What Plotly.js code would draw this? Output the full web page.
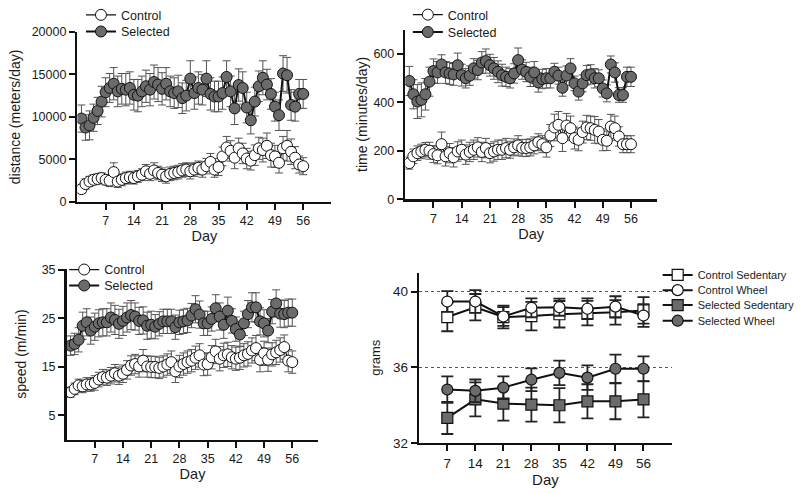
<!DOCTYPE html>
<html><head><meta charset="utf-8">
<script src="https://cdn.plot.ly/plotly-3.0.1.min.js"></script>
<style>html,body{margin:0;padding:0;background:#fff}#chart{width:800px;height:493px}</style>
</head><body><div id="chart"></div><script>
// ---- data ----
const days = [1,2,3,4,5,6,7,8,9,10,11,12,13,14,15,16,17,18,19,20,21,22,23,24,25,26,27,28,29,30,31,32,33,34,35,36,37,38,39,40,41,42,43,44,45,46,47,48,49,50,51,52,53,54,55,56];
const dayTicks = [7,14,21,28,35,42,49,56];

const distControl = [1500,2100,2400,2600,2700,2800,2600,2500,3500,2400,2600,2800,2900,2800,3000,3200,3600,3300,3700,3400,3200,3000,3300,3400,3500,3700,3800,3600,3800,4000,3800,4200,4700,3800,4100,5350,6400,6000,5200,6300,5700,5100,4850,5500,6300,6100,6600,5500,5350,4600,6300,6600,5900,5200,4400,4200];
const distControlErr = [500,600,600,600,600,600,600,700,1100,700,700,700,700,700,700,700,800,800,900,800,800,800,800,800,800,800,800,900,800,800,900,900,1000,900,1000,1100,1300,1200,1300,1200,1200,1200,1100,1200,1300,1400,1500,1400,1300,1200,1400,1800,1500,1300,1000,1000];
const distSelected = [9800,8750,9000,9900,10700,11800,12900,13400,13900,13000,13300,13200,13400,12600,12500,13000,13600,13200,14100,13800,13300,13900,13000,12800,13000,12200,12500,14500,12800,13400,13200,14500,12700,12400,12400,12800,14700,13000,11000,13750,13400,11100,9600,11800,13600,14600,13800,12700,11200,10200,15100,14900,11400,11200,12700,12700];
const distSelectedErr = [1600,1500,1700,1600,1600,1800,1700,1700,1900,1800,1800,1900,1900,1800,1900,1800,1900,1900,2000,2000,1900,1900,1800,1800,1900,1800,1800,2100,1900,1900,1800,2100,1900,1800,1800,1900,1900,1800,1900,1900,1900,1800,1600,1700,1800,2000,1800,1800,1700,1800,2100,2100,1800,1700,1700,1700];

const timeControl = [149,177,190,197,204,200,186,181,227,177,190,173,197,204,184,195,204,214,195,211,190,197,204,204,211,204,214,222,212,211,214,222,235,227,214,263,296,307,252,304,293,252,245,277,296,293,286,279,245,241,300,293,259,227,227,227];
const timeControlErr = [25,30,30,30,30,35,35,35,50,40,40,40,40,40,40,40,40,40,40,40,40,40,40,40,40,35,35,40,35,35,35,35,35,35,40,45,55,55,55,50,50,45,45,45,50,50,55,50,45,40,50,50,40,35,35,35];
const timeSelected = [488,433,403,410,433,485,529,523,556,523,519,515,553,512,499,510,540,533,564,570,553,540,526,512,505,499,519,574,535,525,505,523,482,496,499,499,526,510,460,510,540,478,444,478,512,515,499,499,457,437,556,523,430,430,505,505];
const timeSelectedErr = [60,60,70,70,65,60,50,45,40,45,45,45,50,45,40,40,40,40,45,50,45,45,45,45,40,40,40,50,40,40,40,45,40,40,40,40,35,35,35,40,40,30,35,35,40,40,40,35,35,35,35,40,30,30,40,40];

const speedControl = [9.8,10.5,11.2,11.0,11.4,11.4,11.7,12.4,12.9,12.8,13.2,13.7,13.2,13.6,14.4,15.3,15.6,15.1,16.3,15.1,15.0,15.0,14.8,15.1,15.5,16.0,14.1,15.1,15.6,16.0,16.3,16.9,17.4,15.5,15.6,17.0,18.2,16.7,17.4,17.6,17.0,16.7,16.9,17.4,17.7,18.4,18.9,16.5,17.8,16.5,17.6,18.0,18.5,19.1,16.3,16.0];
const speedControlErr = [1.0,1.2,1.3,1.3,1.4,1.4,1.5,1.5,1.6,1.6,1.7,1.8,1.8,1.8,1.9,2.0,2.0,2.2,2.3,2.2,2.2,2.2,2.2,2.2,2.2,2.3,2.3,2.3,2.3,2.3,2.3,2.4,2.4,2.3,2.3,2.4,2.5,2.5,2.5,2.5,2.4,2.4,2.4,2.4,2.5,2.6,2.6,2.5,2.5,2.4,2.4,2.5,2.5,2.5,2.3,2.3];
const speedSelected = [19.4,19.75,20.6,23.5,24.2,22.5,23.3,24.0,24.2,24.2,25.2,24.7,23.9,24.5,25.2,25.7,25.4,24.5,24.6,23.5,23.7,23.3,23.9,24.4,24.4,24.4,23.2,24.2,24.4,24.6,25.6,26.9,25.8,24.0,24.0,24.9,27.1,25.4,23.7,26.6,24.5,22.8,21.7,24.0,25.9,27.3,27.3,24.4,24.0,22.5,26.4,28.1,26.0,25.9,26.2,26.2];
const speedSelectedErr = [2.0,2.2,2.5,2.8,2.8,2.8,2.8,2.8,2.8,2.8,3.0,3.0,3.0,3.0,3.0,3.0,2.8,2.8,2.8,2.8,2.8,2.5,2.5,2.5,2.5,2.5,2.5,2.5,2.5,2.5,2.5,2.8,2.8,2.5,2.5,2.5,2.8,2.8,2.8,2.8,2.5,2.5,2.5,2.5,2.8,3.0,3.0,2.8,2.8,2.5,2.5,2.8,2.8,2.8,2.8,2.8];

const weekDays = [7,14,21,28,35,42,49,56];
const massControlSed = [38.65,39.17,38.65,38.7,38.8,38.86,38.9,39.0];
const massControlSedErr = [0.75,0.7,0.6,0.75,0.7,0.65,0.65,0.7];
const massControlWheel = [39.47,39.47,38.68,39.14,39.17,39.09,39.2,38.73];
const massControlWheelErr = [0.55,0.6,0.5,0.5,0.45,0.55,0.55,0.6];
const massSelSed = [33.32,34.3,34.08,34.02,33.99,34.2,34.2,34.3];
const massSelSedErr = [0.85,0.9,0.9,0.9,0.9,0.9,0.95,0.95];
const massSelWheel = [34.82,34.75,34.92,35.34,35.7,35.45,35.92,35.92];
const massSelWheelErr = [0.7,0.6,0.6,0.6,0.65,0.65,0.75,0.65];

// ---- styling ----
const GREY = '#6b6b6b';
const INK = '#111';
function dailyPair(xa, ya, ctl, ctlErr, sel, selErr, lgA, lgB) {
  return [
    {x: days, y: ctl, name: 'Control', type: 'scatter', mode: 'lines+markers',
     xaxis: xa, yaxis: ya, legend: lgA,
     line: {color: INK, width: 1.2},
     marker: {symbol: 'circle', size: 11, color: '#fff', line: {color: INK, width: 1}},
     error_y: {type: 'data', array: ctlErr, visible: true, color: '#555', thickness: 1, width: 4}},
    {x: days, y: sel, name: 'Selected', type: 'scatter', mode: 'lines+markers',
     xaxis: xa, yaxis: ya, legend: lgB,
     line: {color: INK, width: 2},
     marker: {symbol: 'circle', size: 11, color: GREY, line: {color: INK, width: 1}},
     error_y: {type: 'data', array: selErr, visible: true, color: '#555', thickness: 1, width: 4}}
  ];
}
function massTrace(y, err, name, symbol, fill, lg) {
  return {x: weekDays, y: y, name: name, type: 'scatter', mode: 'lines+markers',
    xaxis: 'x4', yaxis: 'y4', legend: lg,
    line: {color: INK, width: 2},
    marker: {symbol: symbol, size: 11, color: fill, line: {color: INK, width: 1.2}},
    error_y: {type: 'data', array: err, visible: true, color: '#222', thickness: 1.8, width: 6}};
}

const traces = [].concat(
  dailyPair('x', 'y', distControl, distControlErr, distSelected, distSelectedErr, 'legend', 'legend2'),
  dailyPair('x2', 'y2', timeControl, timeControlErr, timeSelected, timeSelectedErr, 'legend3', 'legend4'),
  dailyPair('x3', 'y3', speedControl, speedControlErr, speedSelected, speedSelectedErr, 'legend5', 'legend6'),
  [massTrace(massControlSed, massControlSedErr, 'Control Sedentary', 'square', '#fff', 'legend7'),
   massTrace(massControlWheel, massControlWheelErr, 'Control Wheel', 'circle', '#fff', 'legend8'),
   massTrace(massSelSed, massSelSedErr, 'Selected Sedentary', 'square', GREY, 'legend9'),
   massTrace(massSelWheel, massSelWheelErr, 'Selected Wheel', 'circle', GREY, 'legend10')]
);

const W = 800, H = 493;
function xAx(x0, x1, range, anchor, tfs, titleSize) {
  return {domain: [x0 / W, x1 / W], range: range, anchor: anchor,
    tickvals: dayTicks, ticks: 'outside', ticklen: 6, tickwidth: 2, tickcolor: INK,
    showline: true, linewidth: 2.5, linecolor: INK, showgrid: false, zeroline: false,
    tickfont: {size: tfs}, title: {text: 'Day', font: {size: titleSize}, standoff: 0}};
}
function yAx(yTop, yBot, range, anchor, tickvals, title, tfs, titleSize, standoff) {
  return {domain: [1 - yBot / H, 1 - yTop / H], range: range, anchor: anchor,
    tickvals: tickvals, tickformat: 'd', ticks: 'outside', ticklen: 6, tickwidth: 2, tickcolor: INK,
    showline: true, linewidth: 2.5, linecolor: INK, showgrid: false, zeroline: false,
    tickfont: {size: tfs}, title: {text: title, font: {size: titleSize}, standoff: standoff}};
}
function lg(xpx, ypx, fs) {
  return {x: xpx / W, y: 1 - ypx / H, xanchor: 'left', yanchor: 'middle',
    bgcolor: 'rgba(0,0,0,0)', borderwidth: 0, font: {size: fs}, itemwidth: 30};
}

const layout = {
  width: W, height: H, margin: {l: 0, r: 0, t: 0, b: 0},
  paper_bgcolor: '#fff', plot_bgcolor: '#fff',
  font: {family: 'Liberation Sans, Arial, sans-serif', color: '#1a1a1a'},
  showlegend: true,
  xaxis: xAx(78.4, 335.6, [0, 63], 'y', 12.5, 14.5),
  yaxis: yAx(30, 200.7, [0, 20000], 'x', [0, 5000, 10000, 15000, 20000], 'distance (meters/day)', 12.5, 14, 8),
  xaxis2: xAx(410.4, 665.5, [0, 62.5], 'y2', 12.5, 14.5),
  yaxis2: yAx(27.7, 198, [0, 700], 'x2', [0, 200, 400, 600], 'time (minutes/day)', 12.5, 14, 3),
  xaxis3: xAx(67.4, 322.5, [0, 62.5], 'y3', 12.5, 14.5),
  yaxis3: yAx(267.6, 439.5, [0, 35.3], 'x3', [5, 15, 25, 35], 'speed (m/min)', 12.5, 14, 12),
  xaxis4: xAx(424.6, 680, [0, 63], 'y4', 13.5, 15),
  yaxis4: Object.assign(yAx(271.7, 442.7, [32, 41], 'x4', [32, 36, 40], 'grams', 13.5, 13, 10),
    {showgrid: true, gridcolor: '#555', griddash: 'dot', gridwidth: 1}),
  legend: lg(82, 13.3, 12.5),
  legend2: lg(82, 30, 12.5),
  legend3: lg(413, 13, 12.5),
  legend4: lg(413, 30.5, 12.5),
  legend5: lg(65, 269, 12.5),
  legend6: lg(65, 285, 12.5),
  legend7: lg(666, 274, 11),
  legend8: lg(666, 289.3, 11),
  legend9: lg(666, 304.3, 11),
  legend10: lg(666, 320, 11)
};

Plotly.newPlot('chart', traces, layout, {displayModeBar: false, staticPlot: true});
</script></body></html>
